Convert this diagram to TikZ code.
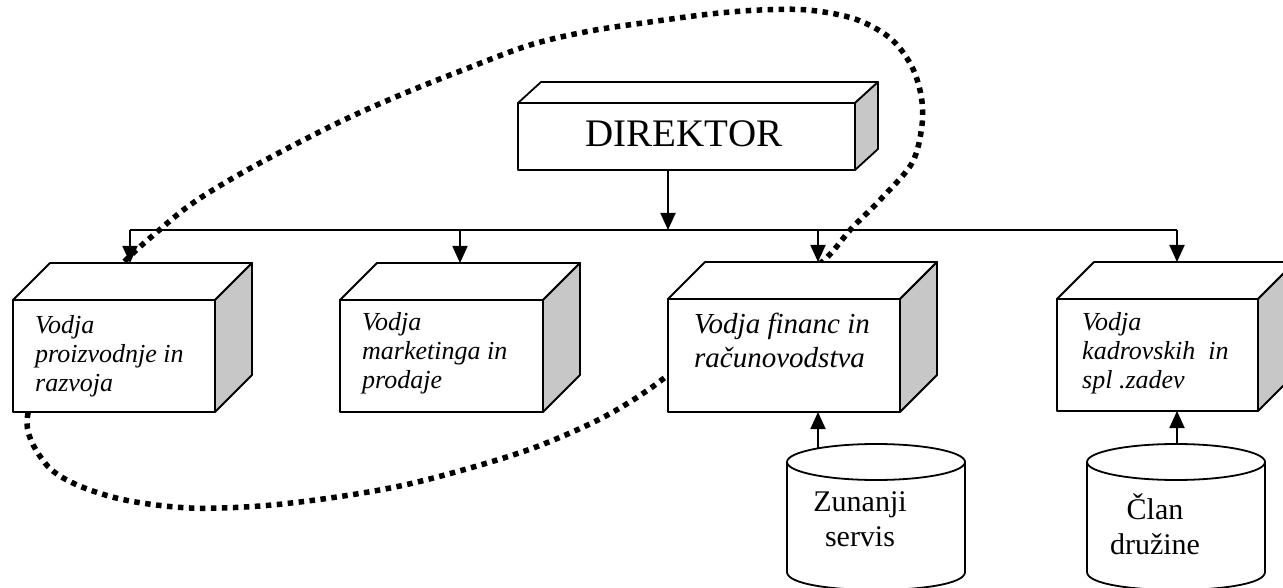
\documentclass[tikz,border=0pt]{standalone}
\usepackage{fontspec}
\setmainfont{Liberation Serif}
\usetikzlibrary{arrows.meta}
\tikzset{
  wire/.style={line width=1.8pt},
  feed/.style={wire, -{Triangle[width=15pt,length=17pt]}},
  face/.style={draw, line width=1.8pt, fill=white, line join=round},
  sideface/.style={face, fill=black!22},
  frontface/.style={face, rectangle, inner sep=0pt, outer sep=0pt},
  boxtext/.style={inner sep=0pt, anchor=north west, align=left, font=\fontsize{26}{29}\selectfont\itshape},
  drumtext/.style={inner sep=0pt, anchor=north, align=center, font=\fontsize{30}{35}\selectfont},
  grouploop/.style={line width=5.5pt, dash pattern=on 5.5pt off 5.5pt},
}
% 3D block: name, x, y (front top-left), width, height, depth dx, depth dy
\newcommand\cubeblock[7]{%
  \node[frontface, anchor=north west, minimum width=#4, minimum height=#5] (#1) at (#2,#3) {};
  \draw[face] (#1.north west) -- ++(#6,-#7) coordinate (#1-back) -- ++(#4,0) -- (#1.north east) -- cycle;
  \draw[sideface] (#1.north east) -- ++(#6,-#7) -- ++(0,#5) -- (#1.south east) -- cycle;
}
% cylinder: centre x, top ellipse centre y, x radius, y radius, bottom centre y
\newcommand\drum[5]{%
  \draw[face] ({#1-#3},#2) -- ({#1-#3},#5)
    .. controls ({#1-#3},{#5+1.333*#4}) and ({#1+#3},{#5+1.333*#4}) .. ({#1+#3},#5)
    -- ({#1+#3},#2);
  \draw[face] (#1,#2) ellipse [x radius=#3, y radius=#4];
}
\begin{document}
\begin{tikzpicture}[x=1pt,y=-1pt]
\useasboundingbox (0,0) rectangle (1283,588);
\clip (0,0) rectangle (1283,588);

% dotted grouping loop (passes behind the blocks)
\draw[grouploop] plot[smooth cycle, tension=0.55] coordinates {
  (27,423) (45,463) (75,484) (125,500) (190,508) (260,506) (330,498)
  (400,486) (470,468) (536,447) (600,419) (648,390) (700,350) (770,297)
  (822,262) (851,229) (880,200) (912,163) (922,125) (921,95) (911,65)
  (890,38) (855,19) (808,10) (760,10) (710,14) (650,22) (590,31)
  (530,45) (463,70) (405,93) (348,118) (290,147) (233,178) (190,205)
  (157,232) (126,260) (85,305) (45,365)};

% top block
\cubeblock{dir}{518}{103}{337}{67}{23}{21}
\node[font=\fontsize{39}{45}\selectfont, anchor=base] (dirtext) at (684,147) {DIREKTOR};

% department blocks
\cubeblock{b1}{13}{300}{202}{112}{37}{37}
\cubeblock{b2}{340}{300}{203}{112}{37}{37}
\cubeblock{b3}{668}{299}{232}{113}{37}{37}
\cubeblock{b4}{1057}{299}{201}{112}{37}{37}

% distribution bus
\coordinate (bus0) at (668,230);
\coordinate (bus1) at (130,230);
\coordinate (bus2) at (460,230);
\coordinate (bus3) at (818,230);
\coordinate (bus4) at (1177,230);
\draw[wire] (bus1) -- (bus4);
\draw[feed] (dir.south -| bus0) -- (bus0);
\draw[feed] (bus1) -- (bus1 |- b1-back);
\draw[feed] (bus2) -- (bus2 |- b2-back);
\draw[feed] (bus3) -- (bus3 |- b3-back);
\draw[feed] (bus4) -- (bus4 |- b4-back);

% block labels
\node[boxtext] (t1) at (35,315) {Vodja\\proizvodnje in\\razvoja};
\node[boxtext] (t2) at (362,312) {Vodja\\marketinga in\\prodaje};
\node[boxtext, font=\fontsize{29}{34}\selectfont\itshape] (t3) at (694,313) {Vodja financ in\\računovodstva};
\node[boxtext] (t4) at (1082,312) {Vodja\\kadrovskih\ \ in\\spl .zadev};

% external sources
\drum{876}{462}{89}{18}{572}
\drum{1176}{462}{89}{18}{572}
\node[drumtext] (d1) at (860,491) {Zunanji\\servis};
\node[drumtext] (d2) at (1155,494) {Član\\družine};
\coordinate (c1in) at (818,448);
\coordinate (c2in) at (1177,444);
\draw[feed] (c1in) -- (c1in |- b3.south);
\draw[feed] (c2in) -- (c2in |- b4.south);
\end{tikzpicture}
\end{document}
